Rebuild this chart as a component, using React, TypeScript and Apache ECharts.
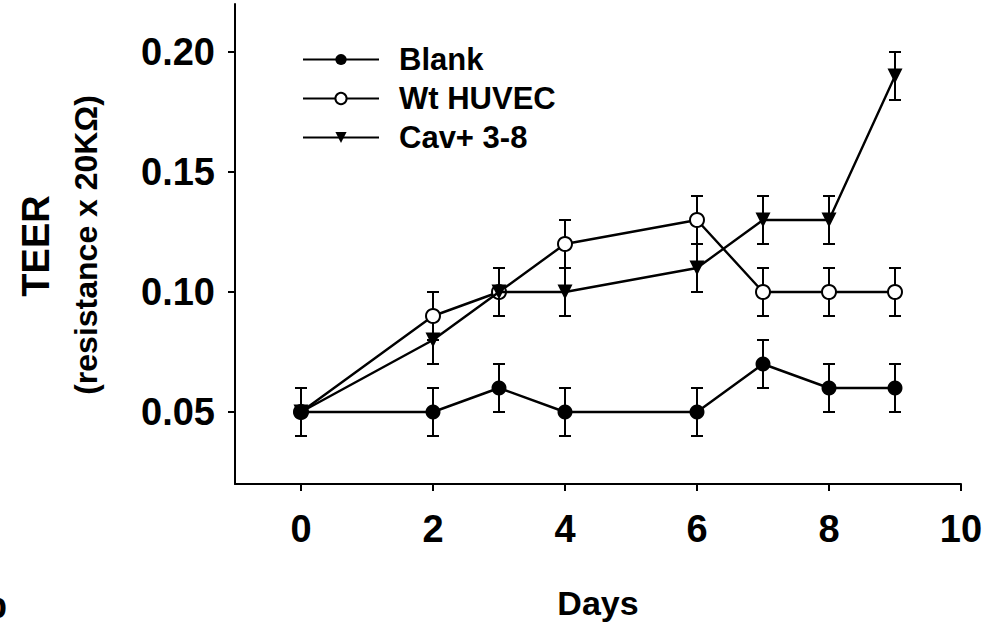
import React, { useEffect, useRef } from "react";
import * as echarts from "echarts";

const days = [0, 2, 3, 4, 6, 7, 8, 9];
const blank = [0.05, 0.05, 0.06, 0.05, 0.05, 0.07, 0.06, 0.06];
const blankErr = [0.01, 0.01, 0.01, 0.01, 0.01, 0.01, 0.01, 0.01];
const wtHuvec = [0.05, 0.09, 0.1, 0.12, 0.13, 0.1, 0.1, 0.1];
const wtErr = [0.01, 0.01, 0.01, 0.01, 0.01, 0.01, 0.01, 0.01];
const cav = [0.05, 0.08, 0.1, 0.1, 0.11, 0.13, 0.13, 0.19];
const cavErr = [0.01, 0.01, 0.01, 0.01, 0.01, 0.01, 0.01, 0.01];
const xTicks = [0, 2, 4, 6, 8, 10];
const yTicks = [0.05, 0.1, 0.15, 0.2];

const FONT = "'Liberation Sans', Arial, Helvetica, sans-serif";

function errData(vals: number[], errs: number[]) {
  return days.map((d, i) => [d, vals[i] - errs[i], vals[i] + errs[i]]);
}

function errSeries(name: string, vals: number[], errs: number[], z: number) {
  return {
    type: "custom",
    name: name + "-err",
    z,
    silent: true,
    data: errData(vals, errs),
    encode: { x: 0, y: [1, 2] },
    renderItem: (params: any, api: any) => {
      const x = api.value(0);
      const lo = api.coord([x, api.value(1)]);
      const hi = api.coord([x, api.value(2)]);
      const w = 6;
      const style = { stroke: "#000", lineWidth: 2 };
      return {
        type: "group",
        children: [
          { type: "line", shape: { x1: lo[0], y1: lo[1], x2: hi[0], y2: hi[1] }, style },
          { type: "line", shape: { x1: lo[0] - w, y1: lo[1], x2: lo[0] + w, y2: lo[1] }, style },
          { type: "line", shape: { x1: hi[0] - w, y1: hi[1], x2: hi[0] + w, y2: hi[1] }, style },
        ],
      };
    },
  };
}

export default function App() {
  const ref = useRef<HTMLDivElement>(null);
  useEffect(() => {
    if (!ref.current) return;
    const chart = echarts.init(ref.current, null, { renderer: "svg" });
    const lineStyle = { color: "#000", width: 2.4 };
    chart.setOption({
      animation: false,
      backgroundColor: "#fff",
      grid: { left: 235, right: 25, top: 4, bottom: 139, outerBoundsMode: "none", containLabel: false },
      legend: {
        orient: "vertical",
        left: 302,
        top: 44,
        padding: 0,
        itemWidth: 76,
        itemHeight: 14,
        itemGap: 8,
        data: ["Blank", "Wt HUVEC", "Cav+ 3-8"],
        textStyle: {
          fontFamily: FONT,
          fontWeight: "bold",
          fontSize: 31,
          color: "#000",
          padding: [0, 0, 0, 15],
        },
      },
      xAxis: {
        type: "value",
        min: -1,
        max: 10,
        splitLine: { show: false },
        axisLine: { onZero: false, lineStyle: { color: "#000", width: 2 } },
        axisTick: { customValues: xTicks, length: 7, lineStyle: { color: "#000", width: 2 } },
        axisLabel: {
          customValues: xTicks,
          margin: 26,
          fontFamily: FONT,
          fontWeight: "bold",
          fontSize: 38,
          color: "#000",
        },
        name: "Days",
        nameLocation: "middle",
        nameGap: 102,
        nameTextStyle: { fontFamily: FONT, fontWeight: "bold", fontSize: 34, color: "#000" },
      },
      yAxis: {
        type: "value",
        min: 0.02,
        max: 0.22,
        splitLine: { show: false },
        axisLine: { onZero: false, lineStyle: { color: "#000", width: 2 } },
        axisTick: { customValues: yTicks, length: 7, lineStyle: { color: "#000", width: 2 } },
        axisLabel: {
          customValues: yTicks,
          margin: 20,
          formatter: (v: number) => v.toFixed(2),
          fontFamily: FONT,
          fontWeight: "bold",
          fontSize: 38,
          color: "#000",
        },
      },
      graphic: [
        {
          type: "text",
          x: 36,
          y: 246,
          rotation: Math.PI / 2,
          style: {
            text: "TEER",
            fontFamily: FONT,
            fontWeight: "bold",
            fontSize: 38,
            fill: "#000",
            align: "center",
            verticalAlign: "middle",
          },
        },
        {
          type: "text",
          x: 86,
          y: 245,
          rotation: Math.PI / 2,
          style: {
            text: "(resistance x 20KΩ)",
            fontFamily: FONT,
            fontWeight: "bold",
            fontSize: 32,
            fill: "#000",
            align: "center",
            verticalAlign: "middle",
          },
        },
        {
          type: "text",
          x: -15,
          y: 623,
          style: {
            text: "b",
            fontFamily: FONT,
            fontWeight: "bold",
            fontSize: 36,
            fill: "#000",
            align: "left",
            verticalAlign: "bottom",
          },
        },
      ],
      series: [
        errSeries("Wt HUVEC", wtHuvec, wtErr, 2),
        errSeries("Cav+ 3-8", cav, cavErr, 2),
        errSeries("Blank", blank, blankErr, 2),
        {
          type: "line",
          name: "Wt HUVEC",
          z: 3,
          data: days.map((d, i) => [d, wtHuvec[i]]),
          symbol: "circle",
          symbolSize: 14,
          lineStyle,
          itemStyle: { color: "#fff", borderColor: "#000", borderWidth: 2 },
        },
        {
          type: "line",
          name: "Cav+ 3-8",
          z: 4,
          data: days.map((d, i) => [d, cav[i]]),
          symbol: "triangle",
          symbolRotate: 180,
          symbolSize: 15,
          lineStyle,
          itemStyle: { color: "#000", borderColor: "#000", borderWidth: 0 },
        },
        {
          type: "line",
          name: "Blank",
          z: 5,
          data: days.map((d, i) => [d, blank[i]]),
          symbol: "circle",
          symbolSize: 15,
          lineStyle,
          itemStyle: { color: "#000", borderColor: "#000", borderWidth: 0 },
        },
      ],
    });
    return () => chart.dispose();
  }, []);
  return (
    <div
      ref={ref}
      style={{ position: "fixed", left: 0, top: 0, width: 986, height: 623, background: "#fff" }}
    />
  );
}
